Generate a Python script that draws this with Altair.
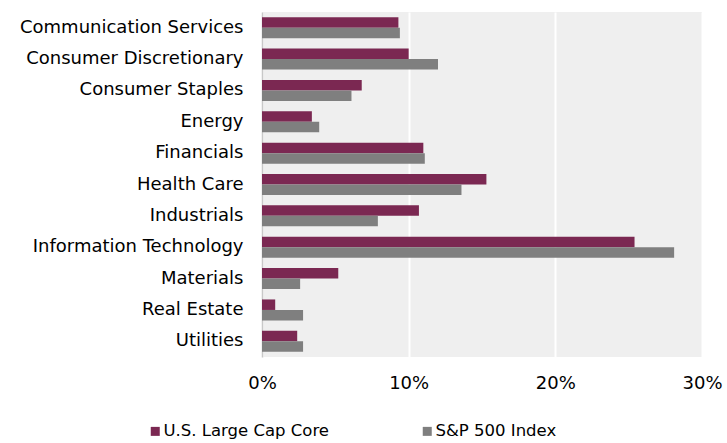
import altair as alt
import pandas as pd

categories = ["Communication Services", "Consumer Discretionary", "Consumer Staples",
              "Energy", "Financials", "Health Care", "Industrials",
              "Information Technology", "Materials", "Real Estate", "Utilities"]
series_names = ["U.S. Large Cap Core", "S&P 500 Index"]
core = [9.3, 10.0, 6.8, 3.4, 11.0, 15.3, 10.7, 25.4, 5.2, 0.9, 2.4]
sp500 = [9.4, 12.0, 6.1, 3.9, 11.1, 13.6, 7.9, 28.1, 2.6, 2.8, 2.8]
x_ticks = [0, 10, 20, 30]
colors = ["#7B2852", "#7F7F7F"]

rows = []
for c, a, b in zip(categories, core, sp500):
    rows.append({"Sector": c, "Series": series_names[0], "Value": a})
    rows.append({"Sector": c, "Series": series_names[1], "Value": b})
df = pd.DataFrame(rows)

FONT = "DejaVu Sans"
FS = 18

chart = alt.Chart(df).mark_bar().encode(
    y=alt.Y("Sector:N", sort=categories, title=None,
            scale=alt.Scale(paddingInner=0.33, paddingOuter=0.165),
            axis=alt.Axis(labelFont=FONT, labelFontSize=FS, labelColor="#000000",
                          labelPadding=19, ticks=False, domain=True,
                          domainColor="#c8c8c8", domainWidth=1.5, grid=False,
                          labelLimit=300)),
    yOffset=alt.YOffset("Series:N", sort=series_names,
                        scale=alt.Scale(paddingInner=0, paddingOuter=0)),
    x=alt.X("Value:Q", title=None,
            scale=alt.Scale(domain=[0, 30], nice=False),
            axis=alt.Axis(values=x_ticks, labelExpr="datum.value + '%'",
                          labelFont=FONT, labelFontSize=FS, labelColor="#000000",
                          labelPadding=17, labelFlush=False, ticks=False, domain=False,
                          grid=True, gridColor="#ffffff", gridWidth=2)),
    color=alt.Color("Series:N", sort=series_names,
                    scale=alt.Scale(domain=series_names, range=colors),
                    legend=alt.Legend(title=None, orient="none", direction="horizontal",
                                      legendX=-115, legendY=411, padding=0,
                                      symbolType="square", symbolSize=81,
                                      symbolStrokeWidth=0, labelFont=FONT,
                                      labelFontSize=16.5, labelColor="#000000",
                                      labelOffset=0, labelLimit=400,
                                      columnPadding=90)),
).properties(
    width=440, height=345,
    autosize=alt.AutoSizeParams(type="none"),
    padding={"left": 262, "top": 12, "right": 25, "bottom": 86},
).configure(background="#ffffff").configure_view(fill="#EFEFEF", strokeWidth=0)

chart.save("out.html", embed_options={"renderer": "svg", "actions": False})
